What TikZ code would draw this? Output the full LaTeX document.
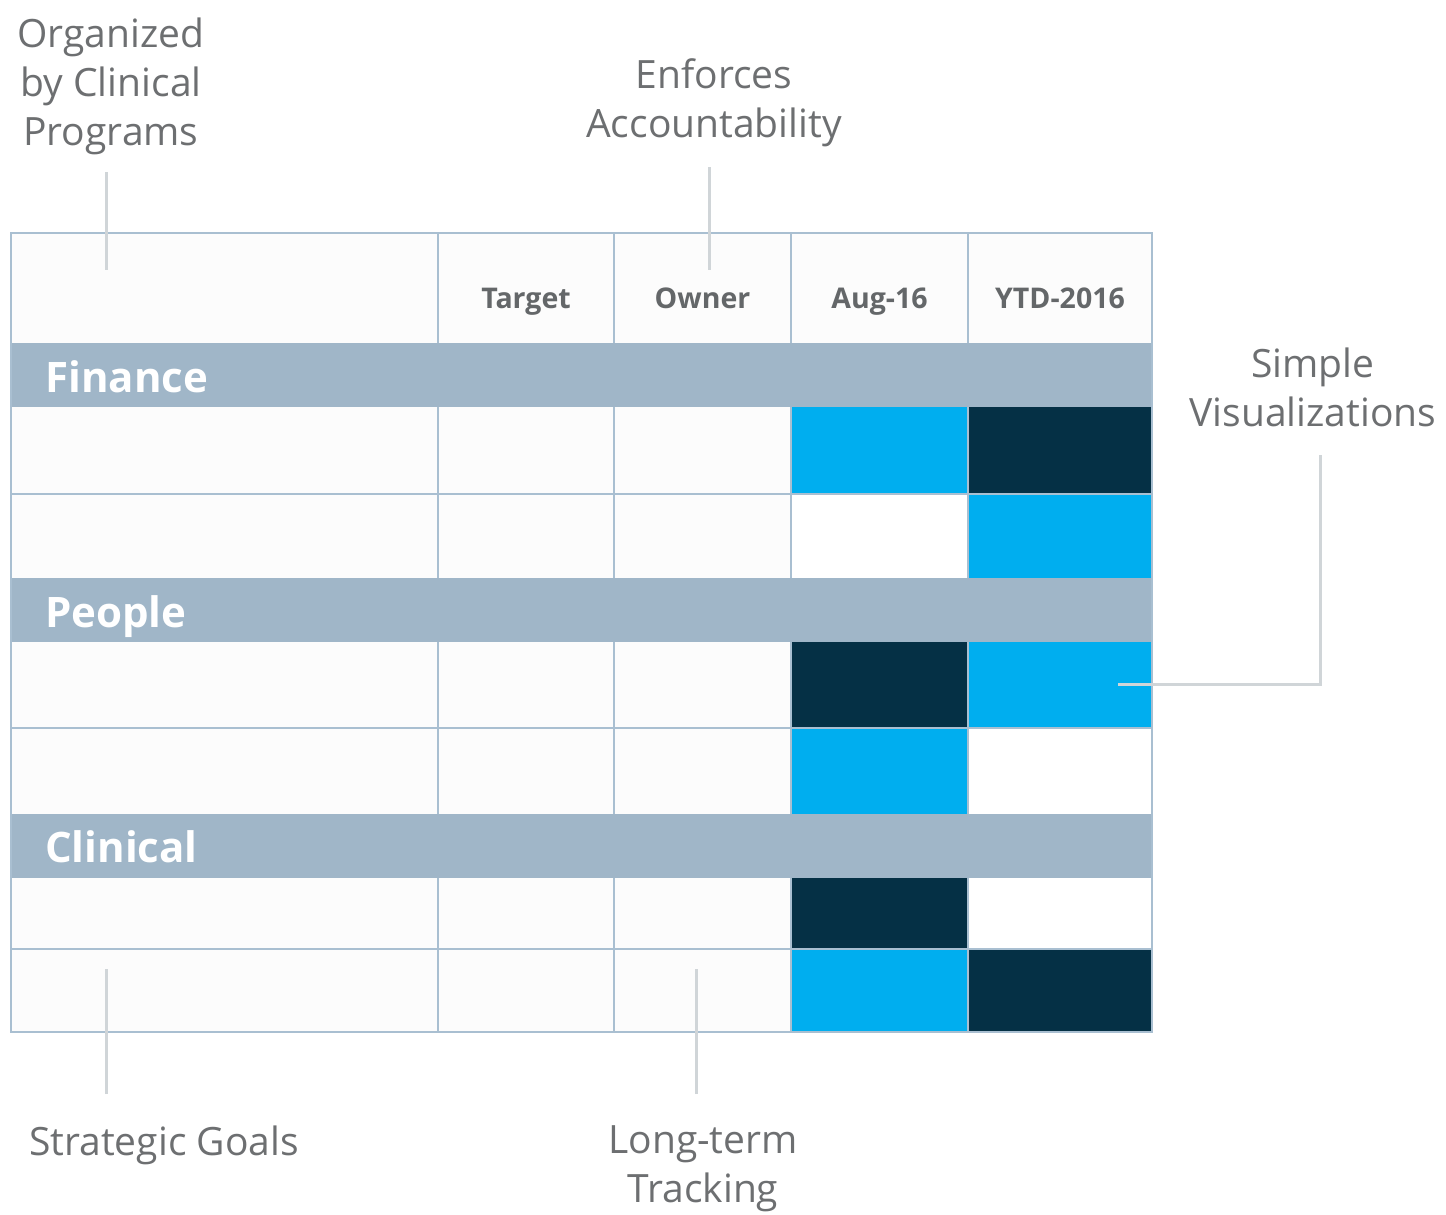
\documentclass[tikz,border=0pt]{standalone}
\usepackage{fontspec}
\setmainfont{Open Sans}
\definecolor{labelgray}{HTML}{6D6F71}
\definecolor{headgray}{HTML}{646769}
\definecolor{gridc}{HTML}{A9BFD1}
\definecolor{bandc}{HTML}{A0B6C8}
\definecolor{cellbg}{HTML}{FCFCFC}
\definecolor{cyanc}{HTML}{00AEEF}
\definecolor{darkc}{HTML}{053045}
\definecolor{leaderc}{HTML}{D0D5D8}
\tikzset{
  callout/.style={align=center, text=labelgray, font=\fontsize{39}{49}\selectfont, inner sep=0pt},
  headtxt/.style={text=headgray, font=\bfseries\fontsize{28.5}{32}\selectfont, inner sep=0pt, anchor=base},
  bandtxt/.style={text=white, font=\bfseries\fontsize{42}{50}\selectfont, inner sep=0pt, anchor=base west},
  leader/.style={draw=leaderc, line width=3pt},
  gridline/.style={draw=gridc, line width=1.5pt},
  band/.style={fill=bandc},
  cyancell/.style={fill=cyanc},
  darkcell/.style={fill=darkc},
  whitecell/.style={fill=white}
}
\begin{document}
\begin{tikzpicture}[x=1pt,y=-1pt]
\useasboundingbox[fill=white] (0,0) rectangle (1446,1215);
% table background
\fill[cellbg] (11,233) rectangle (1152,1032);
% coloured cells
\fill[cyancell] (791,407) rectangle (968,494);
\fill[darkcell] (968,407) rectangle (1152,494);
\fill[whitecell] (791,494) rectangle (968,578);
\fill[cyancell] (968,494) rectangle (1152,578);
\fill[darkcell] (791,642) rectangle (968,728);
\fill[cyancell] (968,642) rectangle (1152,728);
\fill[cyancell] (791,728) rectangle (968,814);
\fill[whitecell] (968,728) rectangle (1152,814);
\fill[darkcell] (791,878) rectangle (968,949);
\fill[whitecell] (968,878) rectangle (1152,949);
\fill[cyancell] (791,949) rectangle (968,1032);
\fill[darkcell] (968,949) rectangle (1152,1032);
% grid
\foreach \x in {438,614,791,968} \draw[gridline] (\x,233) -- (\x,1032);
\foreach \y in {494,728,949} \draw[gridline] (11,\y) -- (1152,\y);
% bands
\fill[band] (11,343) rectangle (1152,407);
\fill[band] (11,578) rectangle (1152,642);
\fill[band] (11,814) rectangle (1152,878);
% outer border
\draw[draw=gridc, line width=2.5pt] (11,233) rectangle (1152,1032);
% header texts
\node[headtxt] (target) at (526,308) {Target};
\node[headtxt] (owner) at (702.5,308) {Owner};
\node[headtxt] (aug) at (879.5,308) {Aug-16};
\node[headtxt] (ytd) at (1060,308) {YTD-2016};
% band labels
\node[bandtxt] (finance) at (45,392) {Finance};
\node[bandtxt] (people) at (45,627) {People};
\node[bandtxt] (clinical) at (45,862) {Clinical};
% callouts
\node[callout] (org) at (111,86) {Organized\\by Clinical\\Programs};
\node[callout] (enf) at (714,103) {Enforces\\Accountability};
\node[callout] (vis) at (1313,387) {Simple\\Visualizations};
\node[callout] (goals) at (164,1145) {Strategic Goals};
\node[callout] (track) at (703,1169) {Long-term\\Tracking};
% leader lines
\coordinate (orgA) at (106,172); \coordinate (orgB) at (106,270);
\coordinate (enfA) at (709,167); \coordinate (enfB) at (709,270);
\coordinate (visA) at (1320,455); \coordinate (visC) at (1320,684); \coordinate (visB) at (1118,684);
\coordinate (goalA) at (106,1094); \coordinate (goalB) at (106,969);
\coordinate (trA) at (696,1094); \coordinate (trB) at (696,969);
\draw[leader] (orgA) -- (orgB);
\draw[leader] (enfA) -- (enfB);
\draw[leader] (visA) -- (visC) -- (visB);
\draw[leader] (goalA) -- (goalB);
\draw[leader] (trA) -- (trB);
\end{tikzpicture}
\end{document}
